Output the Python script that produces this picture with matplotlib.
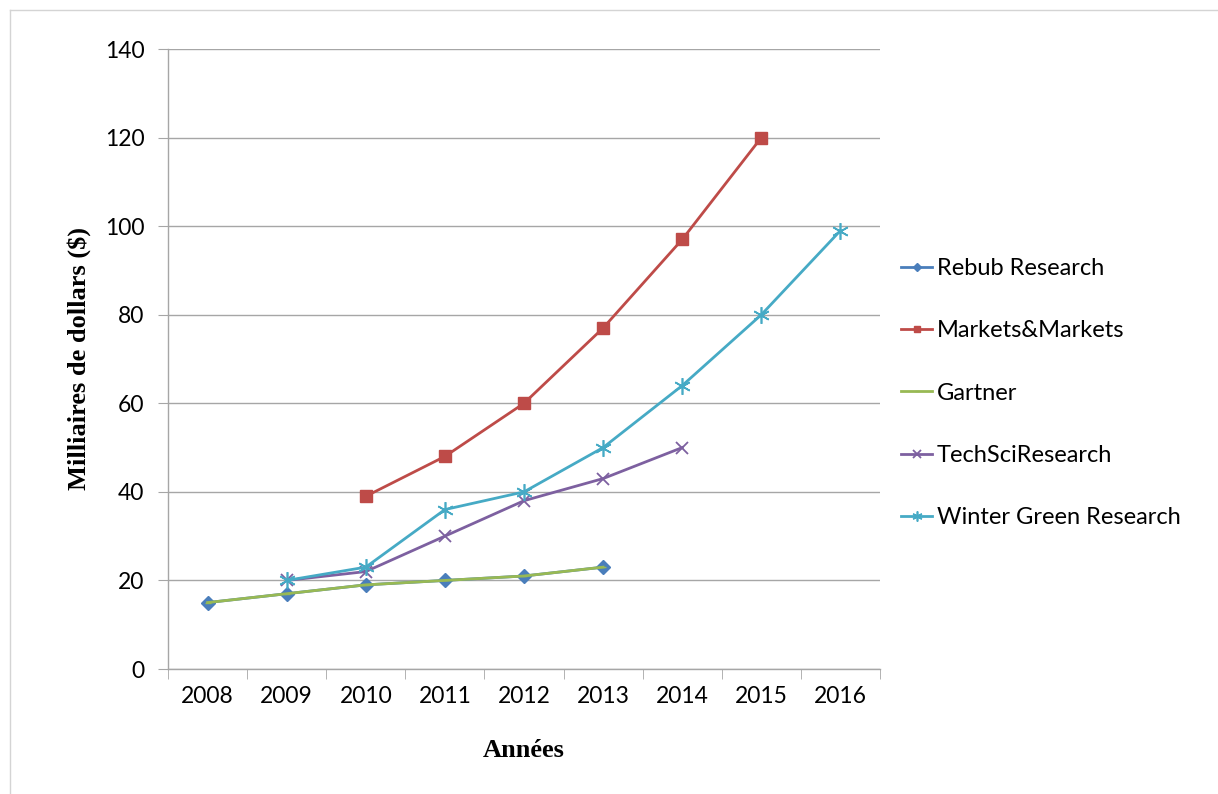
import matplotlib
matplotlib.use("Agg")
import matplotlib.pyplot as plt
from matplotlib.lines import Line2D
import numpy as np

years = ["2008", "2009", "2010", "2011", "2012", "2013", "2014", "2015", "2016"]

rebub_years = [2008, 2009, 2010, 2011, 2012, 2013]
rebub_vals = [15, 17, 19, 20, 21, 23]

markets_years = [2010, 2011, 2012, 2013, 2014, 2015]
markets_vals = [39, 48, 60, 77, 97, 120]

gartner_years = [2008, 2009, 2010, 2011, 2012, 2013]
gartner_vals = [15, 17, 19, 20, 21, 23]

techsci_years = [2009, 2010, 2011, 2012, 2013, 2014]
techsci_vals = [20, 22, 30, 38, 43, 50]

winter_years = [2009, 2010, 2011, 2012, 2013, 2014, 2015, 2016]
winter_vals = [20, 23, 36, 40, 50, 64, 80, 99]

series_names = ["Rebub Research", "Markets&Markets", "Gartner",
                "TechSciResearch", "Winter Green Research"]

fig = plt.figure(figsize=(12.18, 7.94), dpi=100)
ax = fig.add_axes([168 / 1218, 1 - 669 / 794, (880 - 168) / 1218, (669 - 49) / 794])

def xpos(yrs):
    return [years.index(str(y)) for y in yrs]

lw = 2.0
ax.plot(xpos(rebub_years), rebub_vals, color="#4a7ebb", lw=lw, marker="D",
        markersize=7, label=series_names[0], zorder=3)
ax.plot(xpos(markets_years), markets_vals, color="#be4b48", lw=lw, marker="s",
        markersize=8, label=series_names[1], zorder=3)
ax.plot(xpos(gartner_years), gartner_vals, color="#98b954", lw=lw, marker="_",
        markersize=5, label=series_names[2], zorder=4)
ax.plot(xpos(techsci_years), techsci_vals, color="#7d60a0", lw=lw, marker="x",
        markersize=9, markeredgewidth=1.3, label=series_names[3], zorder=3)
ax.plot(xpos(winter_years), winter_vals, color="#46aac5", lw=lw, marker=(6, 2, 0),
        markersize=12, markeredgewidth=1.2, label=series_names[4], zorder=3)

ax.set_xlim(-0.5, len(years) - 0.5)
ax.set_ylim(0, 140)
ax.set_yticks(np.arange(0, 141, 20))
ax.set_xticks(range(len(years)))
ax.set_xticklabels(years)
ax.set_xticks(np.arange(-0.5, len(years), 1.0), minor=True)

ax.grid(axis="y", color="#a6a6a6", lw=1.0)
ax.set_axisbelow(True)
for s in ["top", "right"]:
    ax.spines[s].set_visible(False)
for s in ["left", "bottom"]:
    ax.spines[s].set_color("#a6a6a6")
    ax.spines[s].set_linewidth(1.0)

tick_font = "Lato"
ax.tick_params(axis="x", which="major", length=0, pad=12, labelsize=16.5)
ax.tick_params(axis="x", which="minor", length=7, color="#a6a6a6", direction="out")
ax.tick_params(axis="y", length=7, color="#a6a6a6", pad=10, labelsize=16.5)
for lab in ax.get_xticklabels() + ax.get_yticklabels():
    lab.set_fontfamily(tick_font)

ax.set_xlabel("Années", fontfamily="Liberation Serif", fontweight="bold",
              fontsize=19, labelpad=23)
ax.set_ylabel("Milliaires de dollars ($)", fontfamily="Liberation Serif",
              fontweight="bold", fontsize=19, labelpad=10)

leg = fig.legend(loc="center left", bbox_to_anchor=(880 / 1218, 1 - 393 / 794),
                 frameon=False, handlelength=1.3, handletextpad=0.2,
                 labelspacing=1.75, prop={"family": tick_font, "size": 17},
                 markerscale=0.6)

# thin outer border along top and left
fig.add_artist(Line2D([10 / 1218, 1.0], [1 - 10 / 794, 1 - 10 / 794],
                      transform=fig.transFigure, color="#d4d4d4", lw=1.0))
fig.add_artist(Line2D([10 / 1218, 10 / 1218], [0.0, 1 - 10 / 794],
                      transform=fig.transFigure, color="#d4d4d4", lw=1.0))

fig.savefig("out.png", dpi=100)
